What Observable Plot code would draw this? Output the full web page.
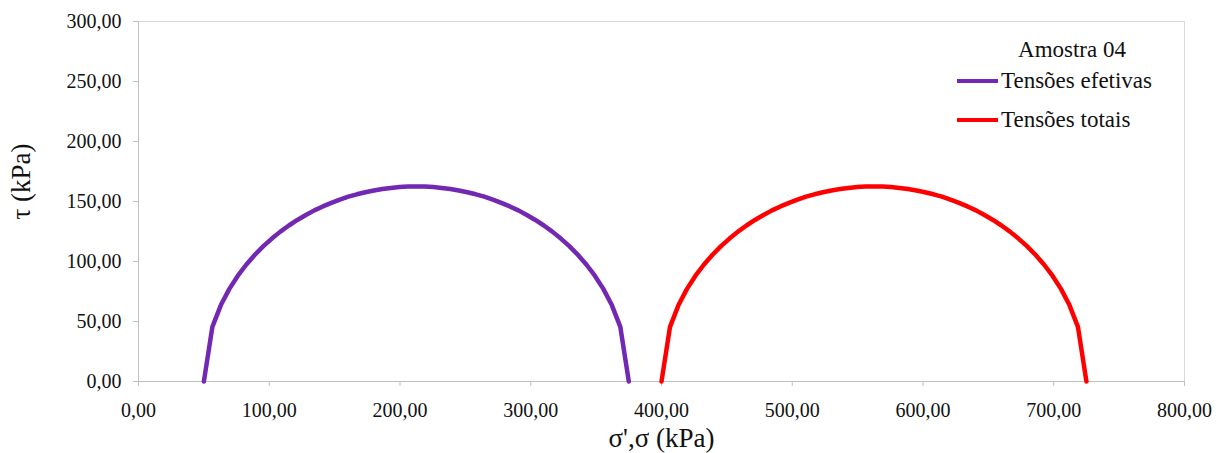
<!DOCTYPE html>
<html>
<head>
<meta charset="utf-8">
<script src="https://cdn.jsdelivr.net/npm/d3@7"></script>
<script src="https://cdn.jsdelivr.net/npm/@observablehq/plot@0.6"></script>
<style>
  body { margin: 0; background: #fff; }
  #wrap { position: relative; width: 1226px; height: 453px; font-family: 'Liberation Serif', 'DejaVu Serif', serif; color: #111; }
  .leg { position: absolute; font-size: 23px; white-space: nowrap; line-height: 1; }
  .sw { position: absolute; height: 4px; width: 41px; }
</style>
</head>
<body>
<div id="wrap"></div>
<script>
// Effective stresses (σ', kPa) and total stresses (σ, kPa), shear τ (kPa)
const sigmaEff = [50, 56.5, 63, 69.5, 76, 82.5, 89, 95.5, 102, 108.5, 115, 121.5, 128, 134.5, 141, 147.5, 154, 160.5, 167, 173.5, 180, 186.5, 193, 199.5, 206, 212.5, 219, 225.5, 232, 238.5, 245, 251.5, 258, 264.5, 271, 277.5, 284, 290.5, 297, 303.5, 310, 316.5, 323, 329.5, 336, 342.5, 349, 355.5, 362, 368.5, 375];
const sigmaTot = [400, 406.5, 413, 419.5, 426, 432.5, 439, 445.5, 452, 458.5, 465, 471.5, 478, 484.5, 491, 497.5, 504, 510.5, 517, 523.5, 530, 536.5, 543, 549.5, 556, 562.5, 569, 575.5, 582, 588.5, 595, 601.5, 608, 614.5, 621, 627.5, 634, 640.5, 647, 653.5, 660, 666.5, 673, 679.5, 686, 692.5, 699, 705.5, 712, 718.5, 725];
const tau = [0, 45.5, 63.7, 77.2, 88.2, 97.5, 105.6, 112.8, 119.1, 124.9, 130.0, 134.6, 138.8, 142.6, 145.9, 148.9, 151.6, 154.0, 156.0, 157.7, 159.2, 160.4, 161.3, 162.0, 162.4, 162.5, 162.4, 162.0, 161.3, 160.4, 159.2, 157.7, 156.0, 154.0, 151.6, 148.9, 145.9, 142.6, 138.8, 134.6, 130.0, 124.9, 119.1, 112.8, 105.6, 97.5, 88.2, 77.2, 63.7, 45.5, 0];

const xTicks = [0, 100, 200, 300, 400, 500, 600, 700, 800];
const yTicks = [0, 50, 100, 150, 200, 250, 300];
const seriesNames = ["Tensões efetivas", "Tensões totais"];
const seriesColors = ["#7228B2", "#FF0000"];
const legendTitle = "Amostra 04";
const xTitle = "σ',σ (kPa)";
const yTitle = "τ (kPa)";

const effData = sigmaEff.map((s, i) => ({s, t: tau[i]}));
const totData = sigmaTot.map((s, i) => ({s, t: tau[i]}));
const fmt = d => d.toFixed(2).replace(".", ",");
const FONT = "'Liberation Serif', 'DejaVu Serif', serif";

const chart = Plot.plot({
  width: 1226,
  height: 453,
  marginLeft: 138,
  marginRight: 42,
  marginTop: 21,
  marginBottom: 72,
  style: { fontFamily: FONT, color: "#111", background: "#fff" },
  x: { domain: [0, 800] },
  y: { domain: [0, 300] },
  marks: [
    Plot.ruleY([300], { stroke: "#d9d9d9", strokeWidth: 1 }),
    Plot.ruleX([800], { stroke: "#d9d9d9", strokeWidth: 1 }),
    Plot.axisX({ ticks: xTicks, tickFormat: fmt, tickSize: 5, tickPadding: 16, fontSize: 20, stroke: "#bfbfbf", label: null }),
    Plot.axisY({ ticks: yTicks, tickFormat: fmt, tickSize: 5, tickPadding: 12, fontSize: 20, stroke: "#bfbfbf", label: null }),
    Plot.ruleY([0], { stroke: "#bfbfbf", strokeWidth: 1 }),
    Plot.ruleX([0], { stroke: "#bfbfbf", strokeWidth: 1 }),
    Plot.line(effData, { x: "s", y: "t", stroke: seriesColors[0], strokeWidth: 4.5, strokeLinejoin: "round" }),
    Plot.line(totData, { x: "s", y: "t", stroke: seriesColors[1], strokeWidth: 4.5, strokeLinejoin: "round" }),
    Plot.text([xTitle], { frameAnchor: "bottom", dy: 57, lineAnchor: "middle", textAnchor: "middle", fontSize: 27, fill: "#111" }),
    Plot.text([yTitle], { frameAnchor: "left", dx: -117, dy: -20, rotate: -90, lineAnchor: "middle", textAnchor: "middle", fontSize: 27, fill: "#111" })
  ]
});
const wrap = document.getElementById("wrap");
wrap.appendChild(chart);

// Legend (HTML overlay)
const t = document.createElement("div");
t.className = "leg";
t.textContent = legendTitle;
t.style.left = "1072px"; t.style.top = "38px"; t.style.transform = "translateX(-50%)";
wrap.appendChild(t);
const rows = [{y: 81}, {y: 120}];
seriesNames.forEach((name, i) => {
  const sw = document.createElement("div");
  sw.className = "sw";
  sw.style.left = "957px"; sw.style.top = (rows[i].y - 2) + "px"; sw.style.background = seriesColors[i];
  wrap.appendChild(sw);
  const l = document.createElement("div");
  l.className = "leg";
  l.textContent = name;
  l.style.left = "1001px"; l.style.top = (rows[i].y - 12) + "px";
  wrap.appendChild(l);
});
</script>
</body>
</html>
